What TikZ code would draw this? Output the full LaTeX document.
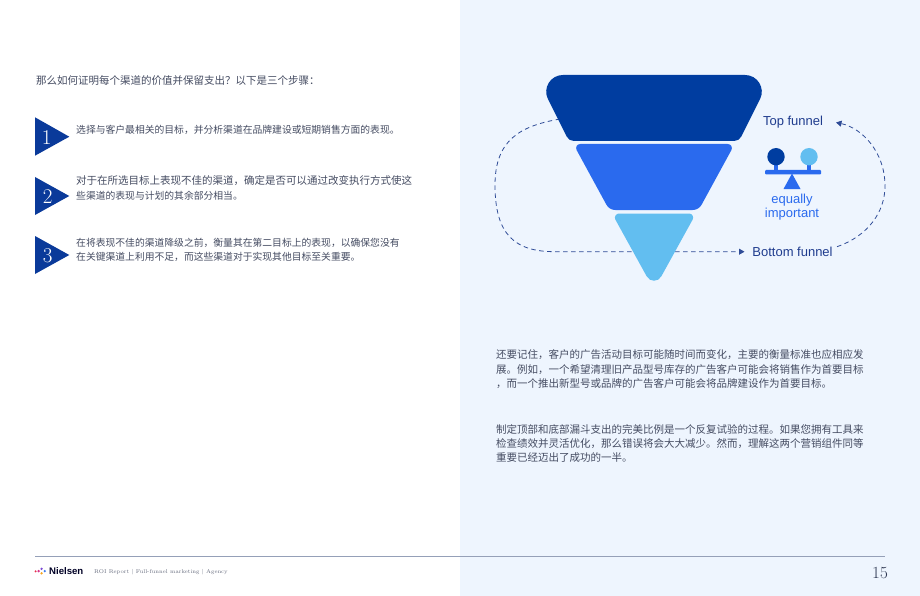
\documentclass[tikz,border=0pt]{standalone}
\usepackage{fontspec}
\newfontfamily\cjk{Noto Sans CJK SC}
\newfontfamily\lsans{Liberation Sans}
\usetikzlibrary{arrows.meta,calc}
\XeTeXlinebreaklocale "zh"
\XeTeXlinebreakskip=0pt plus 2pt minus 0.3pt
\definecolor{funA}{HTML}{003DA0}
\definecolor{funB}{HTML}{2A6AEE}
\definecolor{funC}{HTML}{62BEF0}
\definecolor{panel}{HTML}{EEF5FE}
\definecolor{txt}{HTML}{454C62}
\definecolor{lblnavy}{HTML}{1F3C8E}
\definecolor{dashc}{HTML}{2F4C97}
\definecolor{stepblue}{HTML}{0A3A9A}
\definecolor{footline}{HTML}{95A0B8}
\definecolor{footgray}{HTML}{666C7E}
\definecolor{pagenum}{HTML}{2B3550}
\definecolor{nred}{HTML}{E8304A}
\definecolor{npink}{HTML}{D6338C}
\definecolor{npurple}{HTML}{7B4BD6}
\definecolor{norange}{HTML}{F5A623}
\definecolor{nblue}{HTML}{3A7BF0}
% rounded corner: prev, corner, next, tangent distance, control distance from corner
\newcommand\rc[5]{-- ($(#2)!#4!(#1)$) .. controls ($(#2)!#5!(#1)$) and ($(#2)!#5!(#3)$) .. ($(#2)!#4!(#3)$)}
\newcommand\jl[2]{\makebox[#1][s]{#2}}
\begin{document}
\begin{tikzpicture}[x=1pt,y=-1pt,
  cjkL/.style={anchor=west,inner sep=0pt,text=txt,font=\cjk\fontsize{9.8}{12}\selectfont},
  cjkW/.style={anchor=west,inner sep=0pt,text=txt,font=\cjk\fontsize{10.5}{12}\selectfont},
  cjkR/.style={anchor=west,inner sep=0pt,text=txt,font=\cjk\fontsize{10.5}{12}\selectfont},
  stepnum/.style={inner sep=0pt,text=white,font=\fontsize{21}{21}\selectfont},
  steptri/.style={fill=stepblue},
  dashline/.style={draw=dashc,line width=0.8pt,dash pattern=on 4.5pt off 3.5pt},
  tip/.style={-{Triangle[length=5.5pt,width=6pt]}},
  flabel/.style={inner sep=0pt,text=lblnavy,font=\lsans\fontsize{13}{15}\selectfont},
  eqlabel/.style={inner sep=0pt,text=funB,font=\lsans\fontsize{13}{14}\selectfont,align=center}
]
\useasboundingbox (0,0) rectangle (920,596);
\fill[white] (0,0) rectangle (460,596);
\fill[panel] (460,0) rectangle (920,596);

% ---------- left column ----------
\node[cjkW] (head) at (36,80.7) {那么如何证明每个渠道的价值并保留支出？以下是三个步骤：};

\fill[steptri] (35,117.3) -- (69.3,136.7) -- (35,155.7) -- cycle;
\node[stepnum] (n1) at (46.7,137.3) {1};
\node[cjkL] (s1) at (76,130) {选择与客户最相关的目标，并分析渠道在品牌建设或短期销售方面的表现。};

\fill[steptri] (35,177) -- (69.3,196) -- (35,215) -- cycle;
\node[stepnum] (n2) at (47.7,196.3) {2};
\node[cjkW] (s2a) at (76,181) {对于在所选目标上表现不佳的渠道，确定是否可以通过改变执行方式使这};
\node[cjkL] (s2b) at (76,196) {些渠道的表现与计划的其余部分相当。};

\fill[steptri] (35,236) -- (69.3,255) -- (35,274) -- cycle;
\node[stepnum] (n3) at (47.7,256) {3};
\node[cjkL] (s3a) at (76,242.7) {在将表现不佳的渠道降级之前，衡量其在第二目标上的表现，以确保您没有};
\node[cjkL] (s3b) at (76,257.3) {在关键渠道上利用不足，而这些渠道对于实现其他目标至关重要。};

% ---------- dashed loop (behind funnel) ----------
\coordinate (lstart) at (560,119);
\coordinate (lleft) at (495,185);
\coordinate (lbot) at (555,251.7);
\coordinate (btip) at (744.5,251.7);
\draw[dashline,tip] (lstart) .. controls (520,126) and (495,140) .. (lleft)
   .. controls (495,235) and (515,251.7) .. (lbot) -- (btip);
\coordinate (rstart) at (837,246.7);
\coordinate (rright) at (885,186);
\coordinate (ttip) at (836,122.5);
\draw[dashline,tip] (rstart) .. controls (868,236) and (885,212) .. (rright)
   .. controls (885,152) and (862,128) .. (ttip);

% ---------- funnel ----------
\coordinate (t1) at (535.9,75);
\coordinate (t2) at (772.1,75);
\coordinate (t3) at (739.1,141);
\coordinate (t4) at (568.9,141);
\fill[funA] ($(t1)!27pt!(t2)$) \rc{t1}{t2}{t3}{27pt}{14.6pt} \rc{t2}{t3}{t4}{5pt}{1.9pt}
   \rc{t3}{t4}{t1}{5pt}{1.9pt} \rc{t4}{t1}{t2}{27pt}{14.6pt} -- cycle;

\coordinate (m1) at (573.3,144);
\coordinate (m2) at (734.7,144);
\coordinate (m3) at (698.7,210);
\coordinate (m4) at (609.3,210);
\fill[funB] ($(m1)!7pt!(m2)$) \rc{m1}{m2}{m3}{7pt}{3.8pt} \rc{m2}{m3}{m4}{6pt}{2.3pt}
   \rc{m3}{m4}{m1}{6pt}{2.3pt} \rc{m4}{m1}{m2}{7pt}{3.8pt} -- cycle;

\coordinate (b1) at (612,213.5);
\coordinate (b2) at (696,213.5);
\coordinate (b3) at (654,289.6);
\fill[funC] ($(b1)!7pt!(b2)$) \rc{b1}{b2}{b3}{7pt}{3.9pt} \rc{b2}{b3}{b1}{15pt}{8.5pt}
   \rc{b3}{b1}{b2}{7pt}{3.9pt} -- cycle;

% ---------- labels & scale icon ----------
\node[flabel] (top) at (793,121.7) {Top funnel};
\node[flabel] (bottom) at (792.5,252) {Bottom funnel};
\fill[funB] (776,160) ++(-2.2,0) rectangle ++(4.4,11);
\fill[funB] (809,160) ++(-2.2,0) rectangle ++(4.4,11);
\fill[funA] (776,156.7) circle (8.7);
\fill[funC] (809,156.7) circle (8.7);
\fill[funB,rounded corners=1pt] (765,170) rectangle (821,174.5);
\fill[funB] (792,173.5) -- (800.5,189) -- (783.5,189) -- cycle;
\node[eqlabel] (eq) at (792,207.3) {equally\\important};

% ---------- right paragraphs ----------
\node[cjkR] (p1a) at (496,355) {\jl{367pt}{还要记住，客户的广告活动目标可能随时间而变化，主要的衡量标准也应相应发}};
\node[cjkR] (p1b) at (496,369.3) {\jl{367pt}{展。例如，一个希望清理旧产品型号库存的广告客户可能会将销售作为首要目标}};
\node[cjkR] (p1c) at (496,383.3) {，而一个推出新型号或品牌的广告客户可能会将品牌建设作为首要目标。};

\node[cjkR] (p2a) at (496,429.3) {\jl{365pt}{制定顶部和底部漏斗支出的完美比例是一个反复试验的过程。如果您拥有工具来}};
\node[cjkR] (p2b) at (496,443.3) {\jl{365pt}{检查绩效并灵活优化，那么错误将会大大减少。然而，理解这两个营销组件同等}};
\node[cjkR] (p2c) at (496,457.7) {重要已经迈出了成功的一半。};

% ---------- footer ----------
\coordinate (fl) at (35,556.7);
\coordinate (fr) at (885,556.7);
\draw[footline,line width=0.8pt] (fl) -- (fr);
\fill[nred] (35.6,571.3) circle (1.1);
\fill[npink] (38.6,571.1) circle (1.3);
\fill[npurple] (41.6,568.8) circle (1.3);
\fill[norange] (41.6,573.3) circle (1.3);
\fill[nblue] (44.8,571.1) circle (1.2);
\node[anchor=west,inner sep=0pt,text=black!85!blue,font=\lsans\bfseries\fontsize{9.6}{10}\selectfont] (logo) at (49,571.3) {Nielsen};
\node[anchor=west,inner sep=0pt,text=footgray,font=\fontsize{5.5}{7}\selectfont] (foot) at (94,572) {ROI Report | Full-funnel marketing | Agency};
\node[anchor=east,inner sep=0pt,text=pagenum,font=\fontsize{17}{17}\selectfont] (page) at (888,573.3) {15};
\end{tikzpicture}
\end{document}
